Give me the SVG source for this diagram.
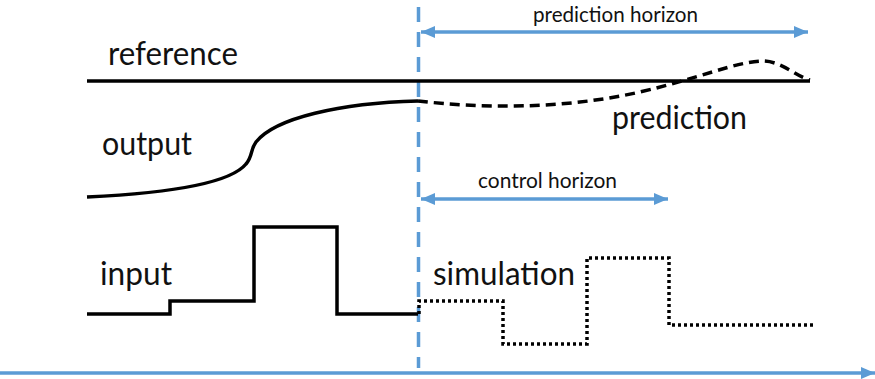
<svg xmlns="http://www.w3.org/2000/svg" width="875" height="379" viewBox="0 0 875 379">
<defs>
<style>
.lbl{font-family:Lato,"Open Sans","Liberation Sans",sans-serif;fill:#111;}
.big{font-size:32px;}
.small{font-size:21px;}
.blk{fill:none;stroke:#000;stroke-width:3.5;}
.blue{fill:none;stroke:#5B9BD5;stroke-width:3.5;}
</style>
<marker id="ah" viewBox="0 0 14 12" refX="14" refY="6" markerWidth="14" markerHeight="12" markerUnits="userSpaceOnUse" orient="auto-start-reverse">
<path d="M0,0 L14,6 L0,12 Z" fill="#5B9BD5"/>
</marker>
</defs>
<rect width="875" height="379" fill="#fff"/>
<g id="connectors">
<line id="time-axis" class="blue" x1="0" y1="373" x2="875" y2="373" marker-end="url(#ah)"/>
<line id="now-line" class="blue" x1="418.5" y1="7" x2="418.5" y2="368" stroke-dasharray="15 10"/>
<line id="prediction-horizon-arrow" class="blue" x1="421" y1="32" x2="808" y2="32" marker-start="url(#ah)" marker-end="url(#ah)"/>
<line id="control-horizon-arrow" class="blue" x1="421" y1="199" x2="668" y2="199" marker-start="url(#ah)" marker-end="url(#ah)"/>
</g>
<g id="reference">
<line class="blk" x1="87" y1="81" x2="810" y2="81"/>
<text class="lbl big" x="108" y="65" textLength="130" lengthAdjust="spacingAndGlyphs">reference</text>
</g>
<g id="output">
<path class="blk" d="M87,197 C150,194 228,186 246,164 C253,156 250,150 256,142 C275,118 340,103 418,101"/>
<text class="lbl big" x="102" y="155" textLength="90" lengthAdjust="spacingAndGlyphs">output</text>
</g>
<g id="prediction">
<path class="blk" stroke-dasharray="10 6" d="M418,101 C480,108 560,110 640,92 C700,78 735,62 762,61 C782,61 795,76 810,80"/>
<text class="lbl big" x="612" y="129" textLength="135" lengthAdjust="spacingAndGlyphs">prediction</text>
</g>
<g id="input">
<path class="blk" d="M87,314 H170 V301 H254 V227 H337 V314 H418"/>
<text class="lbl big" x="100" y="285" textLength="72" lengthAdjust="spacingAndGlyphs">input</text>
</g>
<g id="simulation">
<path class="blk" stroke-dasharray="3 3" d="M419,314 V301 H503 V344 H587 V258 H669 V325 H813"/>
<text class="lbl big" x="433" y="285" textLength="142" lengthAdjust="spacingAndGlyphs">simulation</text>
</g>
<g id="prediction-horizon">
<text class="lbl small" x="533" y="22" textLength="165" lengthAdjust="spacingAndGlyphs">prediction horizon</text>
</g>
<g id="control-horizon">
<text class="lbl small" x="478" y="188" textLength="139" lengthAdjust="spacingAndGlyphs">control horizon</text>
</g>
</svg>
